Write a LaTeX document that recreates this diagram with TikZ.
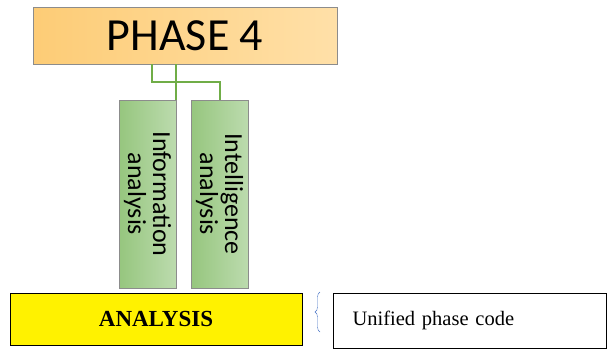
\documentclass[tikz,border=0pt]{standalone}
\usepackage{fontspec}
\setmainfont{Liberation Serif}
\newfontfamily\calib{Carlito}
\usetikzlibrary{decorations.pathreplacing}
\definecolor{phaseL}{HTML}{FDCC76}
\definecolor{phaseR}{HTML}{FFE0A8}
\definecolor{leafL}{HTML}{96C67E}
\definecolor{leafR}{HTML}{BCDBAE}
\definecolor{wire}{HTML}{70AD47}
\definecolor{braceblue}{HTML}{4472C4}
\tikzset{
  phasebox/.style={draw=black!45, left color=phaseL, right color=phaseR,
    minimum width=304pt, minimum height=57pt, inner sep=0pt,
    font=\calib\fontsize{46}{50}\selectfont},
  leaf/.style={draw=black!45, left color=leafL, right color=leafR,
    minimum width=57pt, minimum height=188pt, inner sep=0pt},
  leaftext/.style={rotate=-90, align=center, font=\calib\fontsize{26}{25}\selectfont},
  codebox/.style={draw, fill=yellow, minimum width=292pt, minimum height=52pt,
    font=\bfseries\fontsize{23}{26}\selectfont},
  namebox/.style={draw, minimum height=55pt, inner xsep=19pt,
    text width=235pt, align=left, font=\fontsize{20.5}{24}\selectfont},
  wireline/.style={draw=wire, line width=2pt}
}
\begin{document}
\begin{tikzpicture}[x=1pt, y=-1pt]
  \useasboundingbox (0,0) rectangle (611,349);
  \draw
    (185,35.5) node[phasebox] (phase){PHASE 4}
    (147.5,194) node[leaf] (info){}
    (219.5,194) node[leaf] (intel){}
    (156,319) node[codebox] (code){ANALYSIS}
    (470,320.5) node[namebox] (name){Unified phase code};
  \node[leaftext] (infotext) at (info){Information\\analysis};
  \node[leaftext] (inteltext) at (intel){Intelligence\\analysis};
  \coordinate (bracetop) at (320,292);
  \coordinate (bracebot) at (320,332);
  \draw[wireline] (phase.south -| info.north east) -- (info.north east);
  \draw[wireline] ([xshift=-33pt]phase.south) |- ([yshift=18pt]intel.north) -- (intel.north);
  \draw[braceblue, thin, decorate, decoration={brace, amplitude=5pt}] (bracebot) -- (bracetop);
\end{tikzpicture}
\end{document}
